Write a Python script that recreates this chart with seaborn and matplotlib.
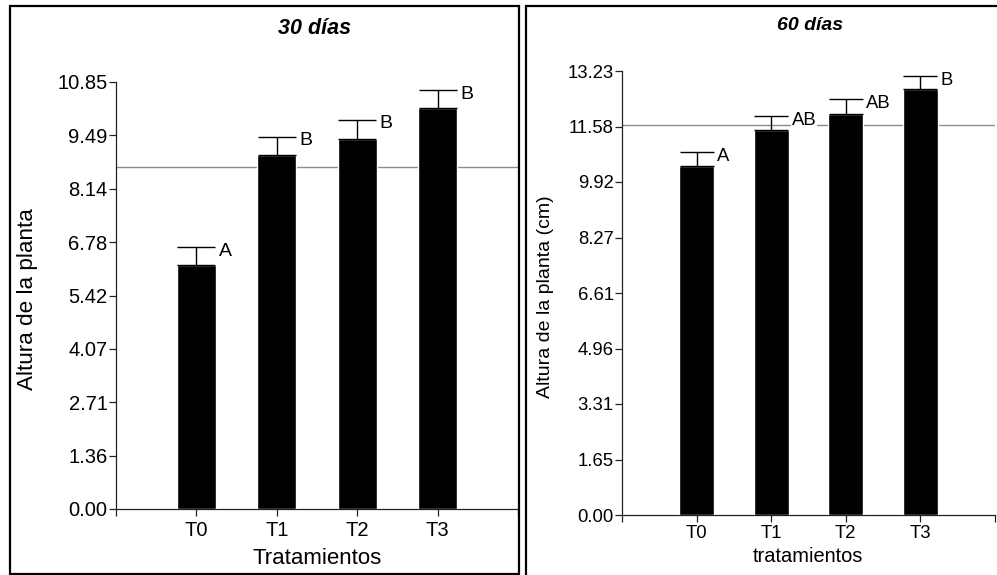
import matplotlib
matplotlib.use("Agg")
import matplotlib.pyplot as plt
from matplotlib.patches import Rectangle
import seaborn as sns
import pandas as pd

# ---- data ----
tratamientos = ["T0", "T1", "T2", "T3"]
altura_30 = [6.20, 9.00, 9.40, 10.19]
error_30 = [0.46, 0.46, 0.49, 0.46]
letras_30 = ["A", "B", "B", "B"]
media_30 = 8.69
ymax_30 = 10.85
yticklabels_30 = ["0.00", "1.36", "2.71", "4.07", "5.42", "6.78", "8.14", "9.49", "10.85"]

altura_60 = [10.40, 11.47, 11.95, 12.69]
error_60 = [0.42, 0.42, 0.45, 0.39]
letras_60 = ["A", "AB", "AB", "B"]
media_60 = 11.62
ymax_60 = 13.23
yticklabels_60 = ["0.00", "1.65", "3.31", "4.96", "6.61", "8.27", "9.92", "11.58", "13.23"]

sns.set_style("ticks")
plt.rcParams["font.family"] = ["Liberation Sans", "DejaVu Sans"]

W, H = 997, 575
fig = plt.figure(figsize=(W / 100, H / 100), dpi=100)


def px_axes(x0, x1, ytop, ybot):
    return fig.add_axes([x0 / W, (H - ybot) / H, (x1 - x0) / W, (ybot - ytop) / H])


def panel(ax, vals, errs, letras, media, ymax, ylabels,
          fs_tick, fs_let, barw, capsize, xpad):
    df = pd.DataFrame({"trat": tratamientos, "altura": vals})
    sns.barplot(data=df, x="trat", y="altura", color="black", width=barw,
                errorbar=None, ax=ax, zorder=3, saturation=1)
    ax.axhline(media, color="#8a8a8a", lw=1.0, zorder=1)
    xs = list(range(len(vals)))
    ax.errorbar(xs, vals, yerr=[[0] * len(vals), errs], fmt="none",
                ecolor="black", elinewidth=1.0, capsize=capsize, capthick=1.0,
                zorder=4)
    for x, v, e, l in zip(xs, vals, errs, letras):
        ax.annotate(l, xy=(x + barw / 2, v + e), xytext=(2, -3),
                    textcoords="offset points", ha="left", va="center",
                    fontsize=fs_let, color="black", zorder=5,
                    bbox=dict(boxstyle="square,pad=0.05", fc="white", ec="none"))
    ax.set_xlim(-1, 4)
    ax.set_ylim(0, ymax)
    ax.set_xticks([-1, 0, 1, 2, 3, 4])
    ax.set_xticklabels([""] + tratamientos + [""], fontsize=fs_tick)
    ax.set_yticks([ymax * k / 8 for k in range(9)])
    ax.set_yticklabels(ylabels, fontsize=fs_tick)
    ax.tick_params(axis="both", length=5, width=0.9, pad=1, color="#222222",
                   labelcolor="black")
    ax.tick_params(axis="x", pad=xpad)
    for s in ["top", "right"]:
        ax.spines[s].set_visible(False)
    for s in ["left", "bottom"]:
        ax.spines[s].set_color("#222222")
        ax.spines[s].set_linewidth(0.9)
    ax.set_xlabel("")
    ax.set_ylabel("")
    ax.patch.set_alpha(0)
    return ax


ax1 = px_axes(116, 518, 82, 509)
panel(ax1, altura_30, error_30, letras_30, media_30, ymax_30, yticklabels_30,
      fs_tick=14.5, fs_let=14, barw=0.49, capsize=14, xpad=4)
ax2 = px_axes(622, 995, 71, 515)
panel(ax2, altura_60, error_60, letras_60, media_60, ymax_60, yticklabels_60,
      fs_tick=13.3, fs_let=13.3, barw=0.47, capsize=12.5, xpad=2.5)

# titles and axis labels placed in figure pixels
def ftext(x, y, s, **kw):
    fig.text(x / W, 1 - y / H, s, ha="center", va="center", color="black", **kw)

ftext(315, 28, "30 días", fontsize=15.5, fontweight="bold", fontstyle="italic")
ftext(810, 25, "60 días", fontsize=14, fontweight="bold", fontstyle="italic")
ftext(317, 558, "Tratamientos", fontsize=16)
ftext(808, 557, "tratamientos", fontsize=14.4)
ftext(28, 299, "Altura de la planta", fontsize=16.2, rotation=90)
ftext(545, 297, "Altura de la planta (cm)", fontsize=14, rotation=90)

# panel frames
fig.patches.append(Rectangle((10 / W, 1 - 574 / H), (519 - 10) / W, (574 - 6) / H,
                             transform=fig.transFigure, fill=False, ec="black", lw=1.6))
fig.patches.append(Rectangle((526 / W, 1 - 590 / H), (1010 - 526) / W, (590 - 6) / H,
                             transform=fig.transFigure, fill=False, ec="black", lw=1.6,
                             clip_on=False))

fig.savefig("out.png", dpi=100)
